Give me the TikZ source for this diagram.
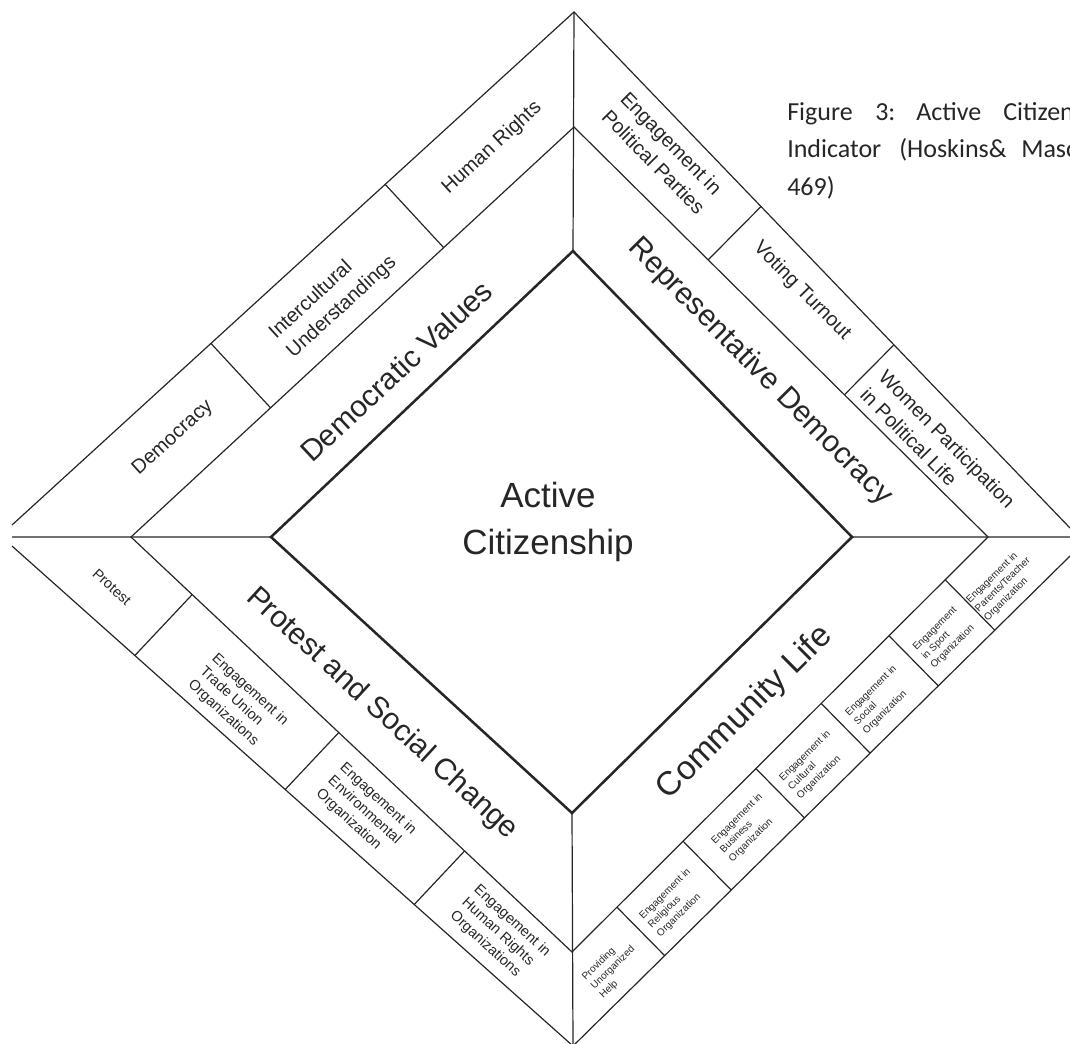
\documentclass[tikz,border=0pt]{standalone}
\usepackage{fontspec}
\setmainfont{Liberation Sans}
\newfontfamily\capfont{Carlito}
\usetikzlibrary{calc}

\tikzset{
  ring/.style={line width=0.9pt,draw=black!85},
  core/.style={line width=1.9pt,draw=black!85,line join=miter},
  centre/.style={font=\fontsize{26.25}{35.25}\selectfont,align=center,text=black!85},
  title/.style={font=\fontsize{22.5}{27}\selectfont,text=black!85},
  cell/.style={font=\fontsize{15}{19.5}\selectfont,align=left,text=black!85},
  midcell/.style={font=\fontsize{10.9}{13.2}\selectfont,align=left,text=black!85},
  tinycell/.style={font=\fontsize{7.5}{9.4}\selectfont,align=left,text=black!85},
  capword/.style={font=\capfont\fontsize{19.5}{24}\selectfont,anchor=base west,inner sep=0pt,text=black!85}
}

\begin{document}
\begin{tikzpicture}[x=0.75pt,y=-0.75pt]
  \useasboundingbox (0,0) rectangle (1070,1043);
  \clip (0,0) rectangle (1070,1043);

  % corners of the three rings
  \coordinate (To) at (574,12);
  \coordinate (Tm) at (574,127);
  \coordinate (Ti) at (573,251);
  \coordinate (Lu) at (12,525);
  \coordinate (Lh) at (12,537);
  \coordinate (Ll) at (12,546);
  \coordinate (Lm) at (131,537);
  \coordinate (Li) at (271,537);
  \coordinate (Ri) at (852,537);
  \coordinate (Rm) at (988,537);
  \coordinate (Ru) at (1070,528);
  \coordinate (Rh) at (1070,537);
  \coordinate (Rl) at (1070,556);
  \coordinate (Bi) at (572,813);
  \coordinate (Bm) at (572,952);
  \coordinate (Bo) at (573,1046);

  \draw[ring] (Lu) -- (To) -- (Ru) (Ll) -- (Bo) -- (Rl);
  \draw[ring] (Lm) -- (Tm) -- (Rm) -- (Bm) -- cycle;
  \draw[ring] (To) -- (Ti) (Lh) -- (Li) (Ri) -- (Rh) (Bi) -- (Bo);
  \draw[core] (Li) -- (Ti) -- (Ri) -- (Bi) -- cycle;

  % cell walls of the outer band
  \draw[ring]
    ($(Lu)!0.354!(To)$) coordinate (dv1) -- ($(Lm)!(dv1)!(Tm)$)
    ($(Lu)!0.664!(To)$) coordinate (dv2) -- ($(Lm)!(dv2)!(Tm)$)
    ($(To)!0.377!(Ru)$) coordinate (rd1) -- ($(Tm)!(rd1)!(Rm)$)
    ($(To)!0.645!(Ru)$) coordinate (rd2) -- ($(Tm)!(rd2)!(Rm)$)
    ($(Ll)!0.219!(Bo)$) coordinate (ps1) -- ($(Lm)!(ps1)!(Bm)$)
    ($(Ll)!0.487!(Bo)$) coordinate (ps2) -- ($(Lm)!(ps2)!(Bm)$)
    ($(Ll)!0.717!(Bo)$) coordinate (ps3) -- ($(Lm)!(ps3)!(Bm)$)
    ($(Bm)!0.108!(Rm)$) coordinate (cl1) -- ($(Bo)!(cl1)!(Rl)$)
    ($(Bm)!0.267!(Rm)$) coordinate (cl2) -- ($(Bo)!(cl2)!(Rl)$)
    ($(Bm)!0.442!(Rm)$) coordinate (cl3) -- ($(Bo)!(cl3)!(Rl)$)
    ($(Bm)!0.599!(Rm)$) coordinate (cl4) -- ($(Bo)!(cl4)!(Rl)$)
    ($(Bm)!0.762!(Rm)$) coordinate (cl5) -- ($(Bo)!(cl5)!(Rl)$)
    ($(Bm)!0.897!(Rm)$) coordinate (cl6) -- ($(Bo)!(cl6)!(Rl)$);

  \node[centre] (active) at (548,522) {Active\\Citizenship};

  \node[title,rotate=43] (dvtitle) at (396,371) {Democratic Values};
  \node[title,rotate=-45.3] (rdtitle) at (760,372) {Representative Democracy};
  \node[title,rotate=-42.5] (pstitle) at (382,714) {Protest and Social Change};
  \node[title,rotate=44.8,font=\fontsize{25}{30}\selectfont] (cltitle) at (745,713) {Community Life};

  \node[cell,rotate=42.5] (democracy) at (173,438) {Democracy};
  \node[cell,rotate=42.5] (intercult) at (333,298) {Intercultural\\Understandings};
  \node[cell,rotate=42.5] (humanrights) at (492,148) {Human Rights};

  \node[cell,rotate=-45.5] (parties) at (663,153) {Engagement in\\Political Parties};
  \node[cell,rotate=-45.5] (voting) at (802,291) {Voting Turnout};
  \node[cell,rotate=-45.5] (women) at (938,448) {Women Participation\\in Political Life};

  \node[midcell,rotate=-42.5] (protest) at (112,587) {Protest};
  \node[midcell,rotate=-42.5] (tradeunion) at (238,703) {Engagement in\\Trade Union\\Organizations};
  \node[midcell,rotate=-42.5] (environ) at (366,812) {Engagement in\\Environmental\\Organization};
  \node[midcell,rotate=-42.5] (hrorgs) at (500,934) {Engagement in\\Human Rights\\Organizations};

  \node[tinycell,rotate=44.7] (unorg) at (613,968) {Providing\\Unorganized\\Help};
  \node[tinycell,rotate=44.7] (religious) at (674,903) {Engagement in\\Religious\\Organization};
  \node[tinycell,rotate=44.7] (business) at (746,828) {Engagement in\\Business\\Organization};
  \node[tinycell,rotate=44.7] (cultural) at (814,765) {Engagement in\\Cultural\\Organization};
  \node[tinycell,rotate=44.7] (social) at (880,700) {Engagement in\\Social\\Organization};
  \node[tinycell,rotate=44.7] (sport) at (944,638) {Engagement\\in Sport\\Organization};
  \node[tinycell,rotate=44.7] (parents) at (1003,585) {Engagement in\\Parents/Teacher\\Organization};

  % caption, cut by the right edge
  \node[capword] (capa) at (787,120) {Figure};
  \node[capword] (capb) at (875,120) {3:};
  \node[capword] (capc) at (916,120) {Active};
  \node[capword] (capd) at (1003,120) {Citizen};
  \node[capword] (cape) at (787,157) {Indicator};
  \node[capword] (capf) at (899,157) {(Hoskins\&};
  \node[capword] (capg) at (1021,157) {Masc};
  \node[capword] (caph) at (787,195) {469)};
\end{tikzpicture}
\end{document}
